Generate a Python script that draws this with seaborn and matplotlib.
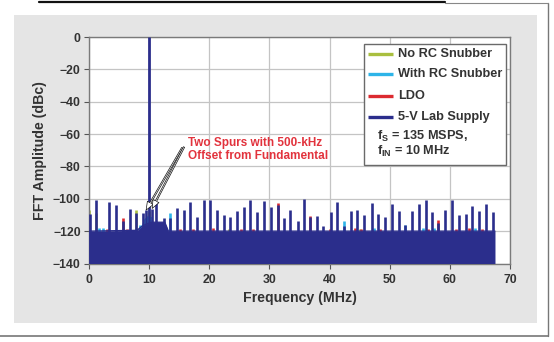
import matplotlib
matplotlib.use("Agg")
import matplotlib.pyplot as plt
from matplotlib.lines import Line2D
from matplotlib.patches import Rectangle
import pandas as pd
import seaborn as sns

# ---- data (MHz, dBc) ----
series_names = ["No RC Snubber", "With RC Snubber", "LDO", "5-V Lab Supply"]
series_colors = ["#a9bf3f", "#2db4e8", "#dc2a30", "#2b2e8c"]

fundamental_freq = 10.0
fundamental_db = 0.0

# 5-V lab supply: noise floor outline and spur comb
lab_floor_freq = [0.0, 8.0, 8.8, 9.6, 10.4, 12.6, 13.2, 67.5]
lab_floor_db = [-120.0, -119.5, -117.0, -115.5, -114.5, -114.5, -120.0, -120.0]
lab_spur_freq = [0.1, 1.2, 3.4, 4.5, 5.7, 6.8, 7.9, 9.0, 9.5, 10.5, 11.2, 12.4,
                 13.5, 14.7, 15.8, 16.8, 17.9, 19.05, 20.2, 21.3, 22.4, 23.5,
                 24.6, 25.7, 26.8, 27.95, 29.05, 30.2, 31.35, 32.4, 33.4, 34.7,
                 35.8, 36.8, 37.9, 38.9, 40.2, 41.3, 42.4, 43.5, 44.6, 45.8,
                 47.0, 48.1, 49.2, 50.35, 51.5, 52.6, 53.7, 54.8, 56.0, 57.1,
                 58.1, 59.2, 60.4, 61.5, 62.6, 63.7, 64.8, 66.0, 67.2]
lab_spur_db = [-109.5, -101.0, -102.0, -104.0, -114.0, -106.0, -108.5, -109.0,
               -107.0, -106.0, -102.5, -112.0, -112.0, -105.5, -107.0, -102.0,
               -111.0, -100.5, -100.5, -107.0, -110.0, -111.0, -107.5, -105.2,
               -100.5, -108.0, -101.5, -105.3, -104.0, -111.7, -106.8, -113.8,
               -100.0, -111.5, -110.5, -117.0, -108.0, -102.0, -117.0, -107.6,
               -107.0, -110.0, -102.6, -109.7, -111.0, -103.0, -107.6, -116.5,
               -107.6, -103.0, -100.6, -108.2, -115.0, -106.8, -100.6, -110.0,
               -109.3, -104.6, -107.6, -103.3, -108.4]

# No RC snubber spurs peeking above the floor
green_spur_freq = [0.0, 1.1, 7.9, 9.9, 23.2, 45.0]
green_spur_db = [-107.0, -109.0, -107.0, -107.5, -118.5, -118.5]

# With RC snubber: close-in hump and a few spurs
cyan_hump_freq = [8.4, 9.0, 9.6, 10.4, 10.9]
cyan_hump_db = [-120.0, -113.0, -110.5, -111.0, -120.0]
cyan_spur_freq = [1.6, 2.4, 8.5, 13.5, 42.4, 47.4, 52.6, 55.5, 57.3, 64.2]
cyan_spur_db = [-118.0, -118.0, -116.5, -109.0, -113.5, -118.0, -116.0, -118.0, -118.0, -118.0]

# LDO spurs
red_spur_freq = [3.0, 5.7, 6.3, 8.8, 15.1, 17.3, 20.6, 25.2, 27.3, 31.35, 36.8,
                 40.0, 44.2, 45.3, 48.4, 56.4, 58.1, 61.1, 63.2, 65.3]
red_spur_db = [-118.5, -112.0, -118.5, -118.5, -118.5, -118.5, -118.0, -118.5,
               -118.5, -102.6, -110.5, -118.5, -118.0, -118.5, -118.5, -118.5,
               -113.0, -118.5, -118.0, -118.5]

x_ticks = [0, 10, 20, 30, 40, 50, 60, 70]
y_ticks = [0, -20, -40, -60, -80, -100, -120, -140]

# ---- styling ----
sns.set_theme(style="whitegrid")
plt.rcParams["font.family"] = ["Liberation Sans", "DejaVu Sans"]
plt.rcParams["font.weight"] = "bold"
plt.rcParams["mathtext.fontset"] = "custom"
plt.rcParams["mathtext.rm"] = "Liberation Sans"
plt.rcParams["mathtext.bf"] = "Liberation Sans:bold"

text_color = "#333333"
fig = plt.figure(figsize=(5.54, 3.42), dpi=100)
fig.patch.set_facecolor("white")

# grey backing panel and page frame lines
fig.patches.append(Rectangle((0.0244, 0.0556), 0.945, 0.9006, transform=fig.transFigure,
                             facecolor="#e5e5e5", edgecolor="none", zorder=-5))
fig.lines.append(Line2D([0.0, 0.9892], [0.0175, 0.0175], transform=fig.transFigure,
                        color="#777777", lw=1.2, zorder=-4))
fig.lines.append(Line2D([0.9892, 0.9892], [0.0175, 0.991], transform=fig.transFigure,
                        color="#777777", lw=1.0, zorder=-4))
fig.lines.append(Line2D([0.803, 0.9892], [0.991, 0.991], transform=fig.transFigure,
                        color="#888888", lw=0.8, zorder=-4))
fig.lines.append(Line2D([0.070, 0.803], [0.9956, 0.9956], transform=fig.transFigure,
                        color="#111111", lw=1.6, zorder=-4))

ax = fig.add_axes([0.1606, 0.2295, 0.760, 0.6623])
ax.set_zorder(2)
ax.set_facecolor("white")
base = -140.0
spike_lw = 1.9

# underlying traces first, lab supply on top
ax.vlines(green_spur_freq, base, green_spur_db, color=series_colors[0], lw=spike_lw, zorder=2)
cyan_hump = pd.DataFrame({"f": cyan_hump_freq, "db": cyan_hump_db})
ax.fill_between(cyan_hump["f"], cyan_hump["db"], base, color=series_colors[1], lw=0, zorder=2)
ax.vlines(cyan_spur_freq, base, cyan_spur_db, color=series_colors[1], lw=spike_lw, zorder=2)
ax.vlines(red_spur_freq, base, red_spur_db, color=series_colors[2], lw=spike_lw, zorder=2)

lab_floor = pd.DataFrame({"f": lab_floor_freq, "db": lab_floor_db})
ax.fill_between(lab_floor["f"], lab_floor["db"], base, color=series_colors[3], lw=0, zorder=3)
sns.lineplot(data=lab_floor, x="f", y="db", ax=ax, color=series_colors[3], lw=1.0,
             zorder=3, legend=False)
ax.vlines(lab_spur_freq, base, lab_spur_db, color=series_colors[3], lw=spike_lw, zorder=3)
ax.vlines([fundamental_freq], base, [fundamental_db], color=series_colors[3], lw=2.0, zorder=3)

ax.set_xlim(0, 70)
ax.set_ylim(-140, 0)
ax.set_xticks(x_ticks)
ax.set_yticks(y_ticks)
ax.set_xticklabels([str(v) for v in x_ticks])
ax.set_yticklabels([str(v).replace("-", "\u2212") for v in y_ticks])
ax.grid(True, color="#c4c4c4", lw=0.9)
ax.set_axisbelow(True)
for s in ax.spines.values():
    s.set_color("#7a7a7a")
    s.set_linewidth(1.0)
ax.tick_params(axis="both", length=3.5, width=0.8, color="#555555", labelsize=8.8,
               labelcolor=text_color, pad=2.5, bottom=True, left=True)
ax.tick_params(axis="x", pad=4)
for lab in ax.get_xticklabels() + ax.get_yticklabels():
    lab.set_fontweight("bold")

ax.set_xlabel("Frequency (MHz)", fontsize=10.2, fontweight="bold", color=text_color, va="center")
ax.set_ylabel("FFT Amplitude (dBc)", fontsize=10.2, fontweight="bold", color=text_color, va="center")
ax.xaxis.set_label_coords(0.5005, -0.152)
ax.yaxis.set_label_coords(-0.1164, 0.5)

# legend box drawn in axes space
ax.add_patch(Rectangle((0.6532, 0.4349), 0.3373, 0.5341, transform=ax.transAxes,
                       facecolor="white", edgecolor="#6a6a6a", lw=1.0, zorder=5))
row_y = [0.925, 0.8353, 0.7408, 0.6455]
for name, color, yy in zip(series_names, series_colors, row_y):
    ax.add_line(Line2D([0.6627, 0.722], [yy, yy], transform=ax.transAxes,
                       color=color, lw=2.4, zorder=6, solid_capstyle="butt"))
    ax.text(0.734, yy, name, transform=ax.transAxes, ha="left", va="center",
            fontsize=9.2, fontweight="bold", color=text_color, zorder=6)
ax.text(0.684, 0.563, r"f$_\mathbf{S}$ = 135 MSPS,", transform=ax.transAxes, ha="left",
        va="center", fontsize=9.2, fontweight="bold", color=text_color, zorder=6)
ax.text(0.684, 0.4967, r"f$_\mathbf{IN}$ = 10 MHz", transform=ax.transAxes, ha="left",
        va="center", fontsize=9.2, fontweight="bold", color=text_color, zorder=6)

# callout for the close-in spurs
ax.text(0.235, 0.5024, "Two Spurs with 500-kHz\nOffset from Fundamental", transform=ax.transAxes,
        ha="left", va="center", fontsize=8.5, fontweight="bold", color="#e2333d",
        linespacing=1.07, zorder=6)
arrow_kw = dict(arrowstyle="simple,head_length=0.5,head_width=0.4,tail_width=0.08",
                fc="white", ec="#111111", lw=0.5, shrinkA=0, shrinkB=0)
ax.annotate("", xy=(9.5, -107.0), xytext=(15.5, -68.5), arrowprops=arrow_kw, zorder=7)
ax.annotate("", xy=(10.5, -106.0), xytext=(15.8, -68.0), arrowprops=arrow_kw, zorder=7)

fig.savefig("out.png", dpi=100, facecolor=fig.get_facecolor())
